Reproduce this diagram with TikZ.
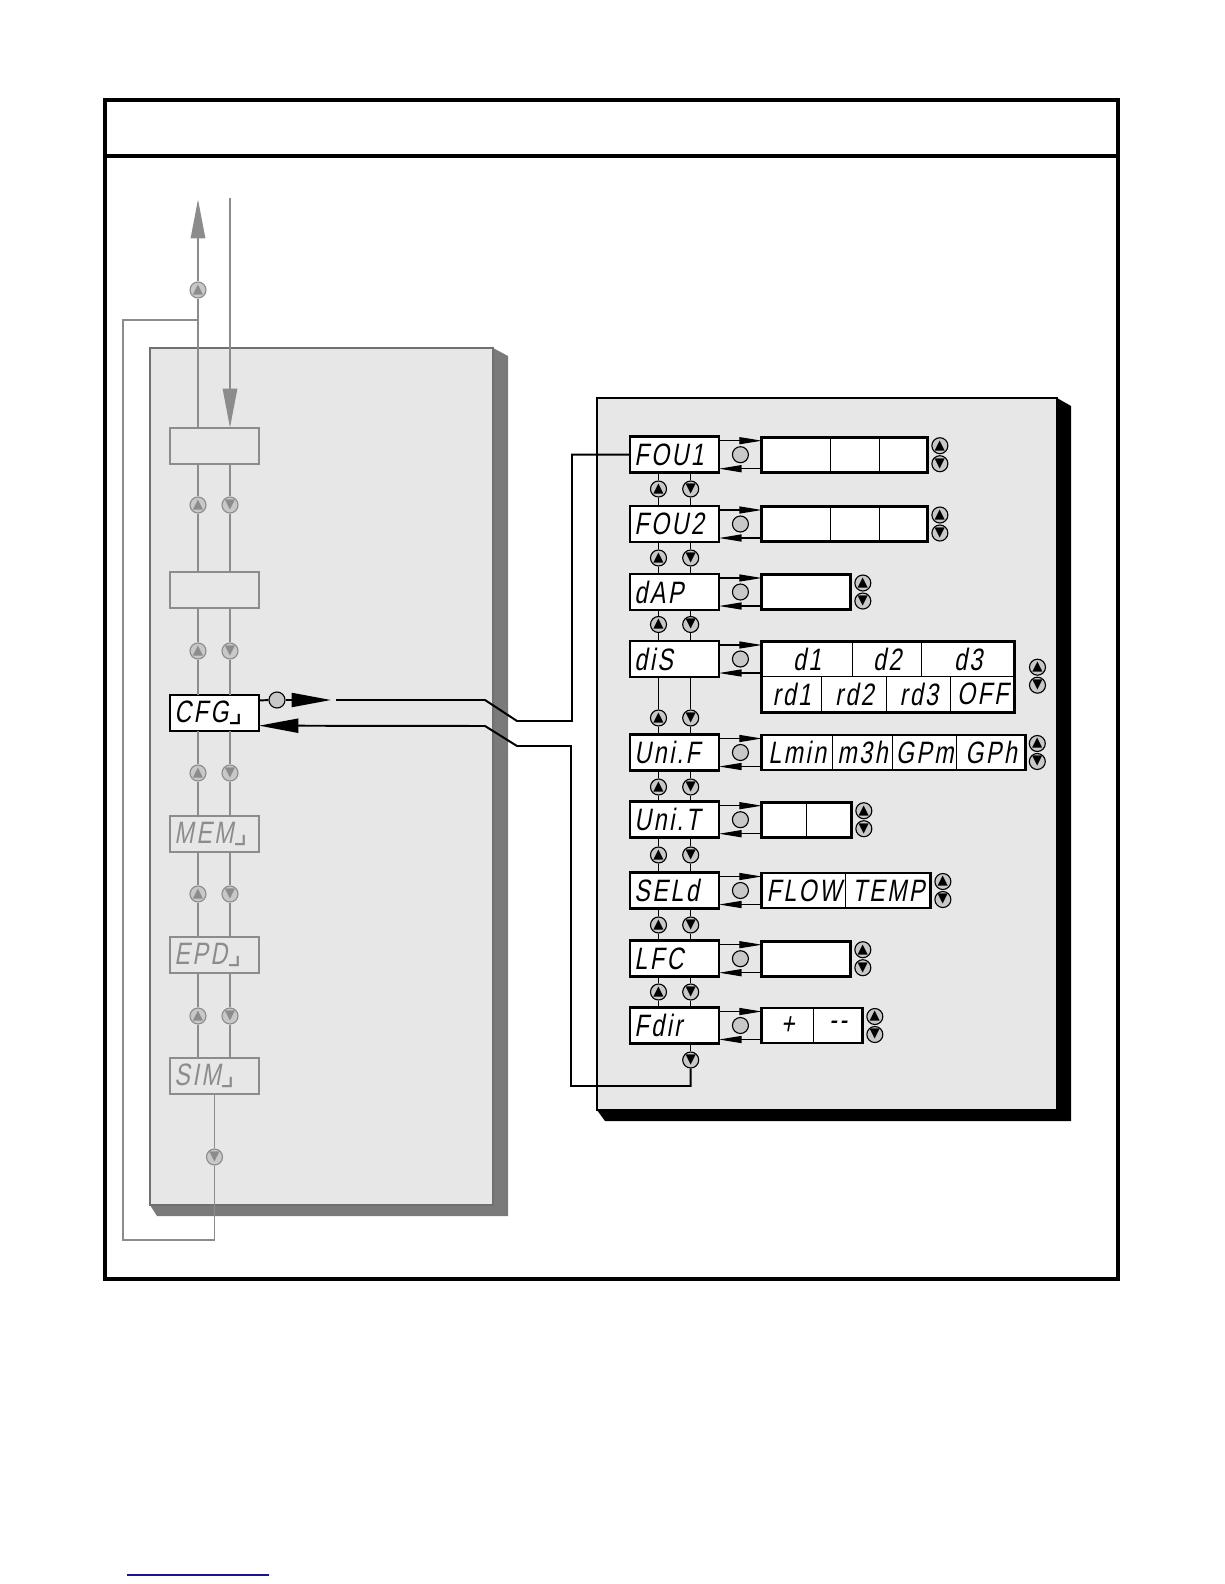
\documentclass[tikz,border=0pt]{standalone}
\usepackage{fontspec}
\usetikzlibrary{arrows.meta, positioning, calc}
\newfontfamily\lcdfont[FakeStretch=0.75,FakeSlant=0.18,LetterSpace=8]{Liberation Sans}
\newfontfamily\glyphfont{DejaVu Sans}
\definecolor{panel}{RGB}{231,231,231}
\definecolor{rim}{RGB}{112,112,112}
\definecolor{dropgray}{RGB}{122,122,122}
\definecolor{dim}{RGB}{140,140,140}
\definecolor{knobfill}{RGB}{200,200,200}
\definecolor{ulink}{RGB}{20,20,150}

\begin{document}
\begin{tikzpicture}[x=0.025cm, y=-0.025cm,
    disp/.style={rectangle, draw=black, line width=2pt, fill=white, outer sep=0pt,
                 minimum width=2.225cm, minimum height=0.9cm, inner sep=0pt,
                 text width=2.0cm, align=left, font=\lcdfont\fontsize{22}{22}\selectfont},
    dimdisp/.style={disp, draw=dim, line width=1.4pt, fill=panel, text=dim},
    cell/.style={rectangle, draw=black, line width=0.7pt, fill=white, outer sep=0pt,
                 inner sep=0pt, minimum height=0.875cm,
                 font=\lcdfont\fontsize{22}{22}\selectfont},
    knob/.style={circle, draw=black, line width=0.8pt, fill=knobfill,
                 minimum size=0.4cm, inner sep=0pt},
    btn/.style={knob, font=\glyphfont\fontsize{9.5}{9.5}\selectfont},
    dimbtn/.style={btn, draw=dim, text=dim},
    vline/.style={line width=0.9pt},
    gline/.style={draw=dim, line width=0.8pt},
    sel/.style={line width=0.8pt, -{Triangle[length=16pt, width=5pt]}},
    bigtip/.style={-{Triangle[length=28pt, width=10pt]}},
    wire/.style={line width=1.4pt}
  ]
  \useasboundingbox (0,0) rectangle (1224,1584);

  % outer frame
  \draw[line width=2.2pt] (105,100) rectangle (1118,1279);
  \draw[line width=2.2pt] (105,156) -- (1118,156);
  \draw[ulink, line width=1.4pt] (127,1575) -- (269,1575);

  % panels
  \fill[dropgray] (493,348) -- (508,356) -- (508,1216) -- (157,1216) -- (150,1205) -- cycle;
  \draw[rim, line width=1.4pt, fill=panel] (150,348) rectangle (493,1205);
  \fill[black] (1057,398) -- (1071,406) -- (1071,1121) -- (605,1121) -- (597,1110) -- cycle;
  \draw[line width=1.4pt, fill=panel] (597,398) rectangle (1057,1110);

  % main menu
  \node[dimdisp] (menu1) at (214.5,446) {};
  \node[dimdisp] (menu2) at (214.5,590) {};
  \node[disp] (cfg) at (214.5,713) {CFG{\glyphfont ⌟}};
  \node[dimdisp] (mem) at (214.5,834) {MEM{\glyphfont ⌟}};
  \node[dimdisp] (epd) at (214.5,955) {EPD{\glyphfont ⌟}};
  \node[dimdisp] (sim) at (214.5,1076) {SIM{\glyphfont ⌟}};
  \coordinate (ll) at (198,0);
  \coordinate (lr) at (230,0);
  \foreach \a/\b/\y in {menu1/menu2/505, menu2/cfg/651, cfg/mem/773, mem/epd/894, epd/sim/1016} {
    \node[dimbtn] (\a-up) at (198,\y) {▲};
    \node[dimbtn] (\a-dn) at (230,\y) {▼};
    \draw[gline] (\a.south -| ll) -- (\a-up) -- (\b.north -| ll);
    \draw[gline] (\a.south -| lr) -- (\a-dn) -- (\b.north -| lr);
  }
  \coordinate (exit) at (198,199);
  \coordinate (entry) at (230,198);
  \node[dimbtn] (esc) at (198,290) {▲};
  \draw[dim, line width=2pt] (menu1.north -| ll) -- (esc);
  \draw[dim, line width=2pt, bigtip] (esc) -- (exit);
  \draw[dim, line width=2pt, bigtip] (entry) -- (menu1.north -| lr);
  \node[dimbtn] (simdn) at (214.5,1157) {▼};
  \draw[gline, line width=1.4pt] (sim) -- (simdn);
  \draw[gline, line width=1.4pt] (simdn) |- (123,1240) |- (198,320);

  % configuration menu
  \node[disp] (fou1) at (674.5,454.7) {FOU1};
  \node[disp] (fou2) at (674.5,524) {FOU2};
  \node[disp] (dap) at (674.5,592) {dAP};
  \node[disp] (dis) at (674.5,659) {diS};
  \node[disp] (unif) at (674.5,752.5) {Uni.F};
  \node[disp] (unit) at (674.5,819.7) {Uni.T};
  \node[disp] (seld) at (674.5,890.5) {SELd};
  \node[disp] (lfc) at (674.5,958.7) {LFC};
  \node[disp] (fdir) at (674.5,1025.5) {Fdir};
  \coordinate (rl) at (658.5,0);
  \coordinate (rr) at (690.7,0);
  \foreach \a/\b/\y in {fou1/fou2/489, fou2/dap/558, dap/dis/624.5, dis/unif/718,
                        unif/unit/787, unit/seld/855, seld/lfc/925, lfc/fdir/992} {
    \node[btn] (\a-up) at (658.5,\y) {▲};
    \node[btn] (\a-dn) at (690.7,\y) {▼};
    \draw[vline] (\a.south -| rl) -- (\a-up) -- (\b.north -| rl);
    \draw[vline] (\a.south -| rr) -- (\a-dn) -- (\b.north -| rr);
  }

  % settings
  \node[cell, minimum width=1.71cm, right=1.07cm of fou1] (fou1a) {};
  \node[cell, minimum width=1.23cm, right=0pt of fou1a] (fou1b) {};
  \node[cell, minimum width=1.21cm, right=0pt of fou1b] (fou1c) {};
  \draw[line width=2pt] (fou1a.north west) rectangle (fou1c.south east);
  \node[cell, minimum width=1.71cm, right=1.07cm of fou2] (fou2a) {};
  \node[cell, minimum width=1.23cm, right=0pt of fou2a] (fou2b) {};
  \node[cell, minimum width=1.21cm, right=0pt of fou2b] (fou2c) {};
  \draw[line width=2pt] (fou2a.north west) rectangle (fou2c.south east);
  \node[cell, minimum width=2.225cm, right=1.07cm of dap] (dapa) {};
  \draw[line width=2pt] (dapa.north west) rectangle (dapa.south east);
  \node[cell, minimum width=2.265cm, minimum height=0.86cm, right=1.07cm of dis] (disa) {d1};
  \node[cell, minimum width=1.735cm, minimum height=0.86cm, right=0pt of disa] (disb) {d2};
  \node[cell, minimum width=2.315cm, minimum height=0.86cm, right=0pt of disb] (disc) {d3};
  \node[cell, minimum width=1.5cm, minimum height=0.9cm, anchor=north west] (disd) at (disa.south west) {rd1};
  \node[cell, minimum width=1.625cm, minimum height=0.9cm, right=0pt of disd] (dise) {rd2};
  \node[cell, minimum width=1.6cm, minimum height=0.9cm, right=0pt of dise] (disf) {rd3};
  \node[cell, minimum width=1.59cm, minimum height=0.9cm, right=0pt of disf] (disg) {OFF};
  \draw[line width=2pt] (disa.north west) rectangle (disg.south east);
  \node[cell, minimum width=1.765cm, right=1.07cm of unif] (unifa) {Lmin};
  \node[cell, minimum width=1.5cm, right=0pt of unifa] (unifb) {m3h};
  \node[cell, minimum width=1.61cm, right=0pt of unifb] (unifc) {GPm};
  \node[cell, minimum width=1.71cm, right=0pt of unifc] (unifd) {GPh};
  \draw[line width=2pt] (unifa.north west) rectangle (unifd.south east);
  \node[cell, minimum width=1.125cm, right=1.07cm of unit] (unita) {};
  \node[cell, minimum width=1.125cm, right=0pt of unita] (unitb) {};
  \draw[line width=2pt] (unita.north west) rectangle (unitb.south east);
  \node[cell, minimum width=2.1cm, right=1.07cm of seld] (selda) {FLOW};
  \node[cell, minimum width=2.125cm, right=0pt of selda] (seldb) {TEMP};
  \draw[line width=2pt] (selda.north west) rectangle (seldb.south east);
  \node[cell, minimum width=2.225cm, right=1.07cm of lfc] (lfca) {};
  \draw[line width=2pt] (lfca.north west) rectangle (lfca.south east);
  \node[cell, minimum width=1.29cm, right=1.07cm of fdir] (fdira) {+};
  \node[cell, minimum width=1.235cm, right=0pt of fdira] (fdirb) {-{}-};
  \draw[line width=2pt] (fdira.north west) rectangle (fdirb.south east);

  % enter / leave a setting
  \foreach \d/\v in {fou1/fou1a, fou2/fou2a, dap/dapa, dis/disa, unif/unifa,
                     unit/unita, seld/selda, lfc/lfca, fdir/fdira} {
    \node[knob] (\d-ok) at ($(\d.east)!0.5!(\v.west)$) {};
    \draw[sel] ($(\d.north east)+(0,4)$) -- ($(\d.north east -| \v.west)+(0,4)$);
    \draw[sel] ($(\d.south east -| \v.west)+(0,-4)$) -- ($(\d.south east)+(0,-4)$);
  }
  \foreach \v in {fou1c, fou2c, dapa, unifd, unitb, seldb, lfca, fdirb} {
    \node[btn] (\v-up) at ([shift={(12,-9)}]\v.east) {▲};
    \node[btn] (\v-dn) at ([shift={(12,9)}]\v.east) {▼};
  }
  \node[btn] (dis-vup) at ([shift={(23,-9)}]disc.south east) {▲};
  \node[btn] (dis-vdn) at ([shift={(23,9)}]disc.south east) {▼};

  % links between the menus
  \node[knob] (go) at (277,700) {};
  \coordinate (goend) at (331,700);
  \coordinate (gostart) at (336,700);
  \draw[wire] ([yshift=9pt]cfg.east) -- (go);
  \draw[wire, bigtip] (go) -- (goend);
  \draw[wire] (gostart) -- (485,700) -- (517,721) -- (572,721) |- (fou1.west);
  \node[btn] (back) at (690.7,1060) {▼};
  \draw[vline] (fdir.south -| rr) -- (back);
  \draw[wire, bigtip] (back) |- (571,1086) -- (571,746) -- (517,746) -- (485,726)
    -- ([yshift=-9pt]cfg.east);
\end{tikzpicture}
\end{document}
